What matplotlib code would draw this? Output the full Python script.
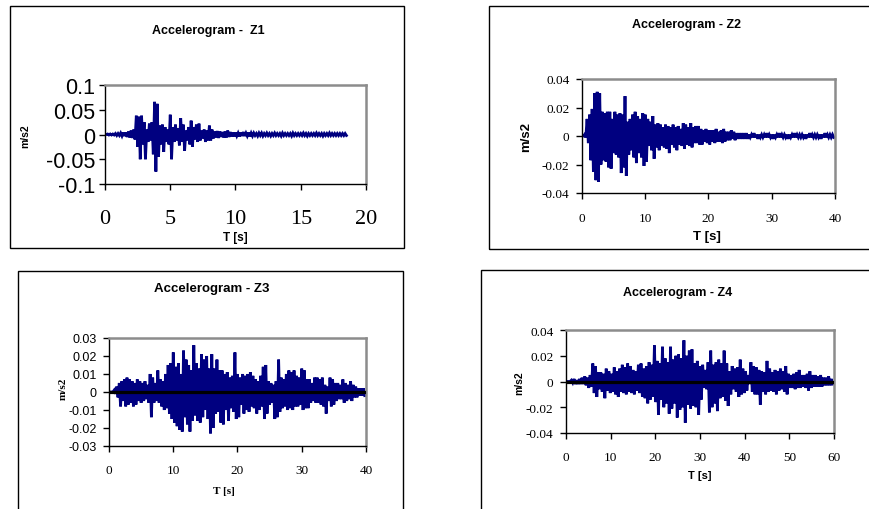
import numpy as np
import matplotlib
matplotlib.use("Agg")
import matplotlib.pyplot as plt
from matplotlib.patches import Rectangle
from matplotlib.ticker import FixedLocator, FixedFormatter

# ---------------- data (accelerations in 1e-3 m/s2) ----------------
# alternating positive / negative half-cycle peaks sampled every dt seconds
z1_dt = 0.2
z1_up = [0, 1, 1, 1, 2, 2, 3, 4, 4, 6,
         8, 10, 38, 36, 38, 25, 10, 22, 25, 66,
         62, 18, 20, 15, 10, 40, 15, 20, 12, 33,
         20, 8, 15, 28, 15, 20, 22, 8, 10, 8,
         18, 10, 6, 7, 6, 5, 6, 8, 5, 4,
         4, 3, 4, 5, 3, 4, 3, 3, 2, 3,
         3, 2, 3, 2, 2, 3, 2, 2, 3, 2,
         2, 2, 3, 2, 2, 2, 3, 2, 2, 2,
         2, 3, 2, 2, 2, 2, 3, 2, 2, 2,
         2, 2, 2]
z1_dn = [0, -1, -1, -1, -2, -2, -3, -3, -5, -6,
         -7, -10, -25, -50, -20, -50, -15, -12, -40, -75,
         -45, -20, -35, -15, -20, -50, -15, -12, -22, -15,
         -33, -12, -20, -25, -10, -15, -12, -8, -15, -12,
         -12, -8, -6, -7, -5, -6, -6, -5, -4, -4,
         -3, -4, -3, -3, -3, -4, -3, -2, -3, -2,
         -3, -2, -2, -3, -2, -2, -2, -3, -2, -2,
         -2, -3, -2, -2, -2, -2, -2, -3, -2, -2,
         -2, -2, -2, -3, -2, -2, -2, -2, -2, -2,
         -2, -2, -2]

z2_dt = 0.4
z2_up = [0, 1, 12, 15, 19, 30, 31, 30, 17, 16,
         17, 17, 12, 17, 15, 16, 15, 28, 10, 12,
         15, 17, 14, 12, 16, 15, 12, 10, 14, 8,
         9, 8, 6, 8, 7, 6, 8, 6, 7, 5,
         9, 8, 6, 9, 6, 7, 7, 5, 4, 5,
         4, 4, 4, 5, 3, 4, 5, 3, 3, 4,
         3, 2, 2, 2, 2, 2, 1, 1, 2, 1,
         1, 1, 1, 2, 1, 1, 1, 1, 2, 1,
         1, 1, 1, 1, 2, 1, 1, 1, 1, 1,
         2, 1, 1, 1, 1, 1, 2, 1, 1, 1]
z2_dn = [0, -1, -5, -17, -25, -31, -32, -20, -17, -18,
         -22, -23, -12, -13, -15, -26, -22, -28, -13, -10,
         -15, -19, -12, -15, -21, -18, -7, -10, -16, -8,
         -10, -7, -8, -9, -12, -6, -8, -10, -6, -7,
         -9, -6, -7, -8, -5, -5, -6, -6, -4, -5,
         -6, -4, -5, -4, -4, -5, -4, -3, -3, -2,
         -3, -2, -2, -2, -2, -2, -1, -1, -1, -2,
         -1, -1, -1, -1, -1, -2, -1, -1, -1, -1,
         -1, -2, -1, -1, -1, -1, -1, -1, -2, -1,
         -1, -1, -1, -1, -2, -1, -1, -1, -1, -1]

z3_dt = 0.4
z3_up = [0, 0, 1, 3, 5, 6, 7, 8, 7, 6,
         5, 7, 6, 5, 6, 4, 10, 8, 5, 12,
         7, 6, 10, 15, 16, 22, 14, 16, 10, 23,
         18, 15, 12, 26, 16, 13, 21, 18, 20, 13,
         21, 13, 18, 12, 12, 10, 11, 8, 9, 22,
         10, 8, 10, 9, 10, 11, 9, 7, 6, 9,
         14, 15, 6, 5, 4, 6, 18, 8, 7, 10,
         12, 11, 12, 9, 8, 13, 12, 7, 7, 5,
         8, 8, 7, 8, 4, 3, 8, 7, 5, 5,
         4, 7, 5, 4, 6, 4, 3, 2, 2, 2]
z3_dn = [0, 0, -1, -3, -8, -5, -8, -7, -6, -8,
         -7, -5, -6, -5, -4, -6, -14, -6, -5, -6,
         -8, -10, -9, -12, -15, -17, -19, -21, -22, -14,
         -18, -22, -16, -13, -16, -17, -14, -10, -15, -23,
         -20, -12, -11, -17, -18, -10, -16, -9, -11, -15,
         -14, -7, -12, -10, -11, -8, -9, -12, -10, -8,
         -15, -12, -7, -6, -15, -14, -11, -9, -8, -10,
         -9, -10, -8, -8, -7, -10, -9, -9, -6, -5,
         -6, -6, -7, -8, -12, -5, -8, -7, -5, -4,
         -4, -6, -5, -4, -5, -3, -3, -2, -2, -2]

z4_dt = 0.6
z4_up = [0, 0, 1, 2, 1, 2, 3, 4, 3, 5,
         14, 12, 7, 7, 6, 10, 8, 6, 11, 8,
         10, 13, 11, 14, 12, 9, 8, 13, 14, 10,
         12, 15, 13, 28, 16, 14, 27, 18, 15, 27,
         17, 20, 21, 18, 32, 20, 24, 25, 14, 16,
         12, 13, 9, 15, 24, 13, 15, 17, 14, 24,
         14, 8, 12, 10, 11, 17, 10, 8, 5, 15,
         12, 11, 9, 8, 7, 16, 10, 7, 9, 8,
         10, 8, 12, 6, 5, 6, 7, 9, 5, 5,
         6, 8, 5, 5, 4, 5, 3, 3, 4, 2]
z4_dn = [0, 0, -1, -2, -2, -2, -2, -3, -5, -4,
         -9, -12, -6, -8, -13, -7, -9, -8, -10, -12,
         -8, -9, -10, -8, -9, -10, -7, -9, -12, -13,
         -17, -14, -12, -16, -26, -14, -20, -17, -25, -21,
         -17, -28, -22, -20, -32, -18, -21, -19, -20, -26,
         -14, -5, -6, -24, -20, -17, -23, -13, -12, -15,
         -19, -10, -6, -8, -12, -10, -9, -7, -2, -8,
         -10, -10, -18, -8, -10, -8, -7, -8, -10, -7,
         -6, -8, -10, -5, -5, -6, -5, -5, -4, -5,
         -7, -5, -4, -4, -4, -4, -3, -3, -3, -2]

# tick labels
z1_yticks = [-0.1, -0.05, 0, 0.05, 0.1]
z1_ylabels = ["-0.1", "-0.05", "0", "0.05", "0.1"]
z1_xticks = [0, 5, 10, 15, 20]
z2_yticks = [-0.04, -0.02, 0, 0.02, 0.04]
z2_ylabels = ["-0.04", "-0.02", "0", "0.02", "0.04"]
z2_xticks = [0, 10, 20, 30, 40]
z3_yticks = [-0.03, -0.02, -0.01, 0, 0.01, 0.02, 0.03]
z3_ylabels = ["-0.03", "-0.02", "-0.01", "0", "0.01", "0.02", "0.03"]
z3_xticks = [0, 10, 20, 30, 40]
z4_yticks = [-0.04, -0.02, 0, 0.02, 0.04]
z4_ylabels = ["-0.04", "-0.02", "0", "0.02", "0.04"]
z4_xticks = [0, 10, 20, 30, 40, 50, 60]

titles = ["Accelerogram -  Z1", "Accelerogram - Z2", "Accelerogram - Z3", "Accelerogram - Z4"]

# ---------------- drawing ----------------
W, H = 870, 510
fig = plt.figure(figsize=(W / 100, H / 100), dpi=100)
fig.patch.set_facecolor("white")

SANS = "Liberation Sans"
SERIF = "Liberation Serif"
NAVY = "#000080"


def fx(x):
    return x / W


def fy(y):
    return 1 - y / H


def box(x0, y0, x1, y1):
    fig.patches.append(Rectangle((fx(x0), fy(y1)), fx(x1) - fx(x0), fy(y0) - fy(y1),
                                 transform=fig.transFigure, fill=False,
                                 edgecolor="black", linewidth=1.0, clip_on=False))


def zigzag(up, dn, dt):
    up = np.asarray(up, float) * 1e-3
    dn = np.asarray(dn, float) * 1e-3
    n = len(up)
    t = np.empty(2 * n)
    y = np.empty(2 * n)
    t[0::2] = np.arange(n) * dt
    t[1::2] = np.arange(n) * dt + dt / 2
    y[0::2] = up
    y[1::2] = dn
    return t, y


def panel(rect, up, dn, dt, xlim, xticks, yticks, ylabels,
          yfont, yfs, xfs, xpad, ypad, zero_line):
    x0, y0, x1, y1 = rect
    ax = fig.add_axes([fx(x0), fy(y1), fx(x1) - fx(x0), fy(y0) - fy(y1)])
    t, y = zigzag(up, dn, dt)
    ax.plot(t, y, color=NAVY, lw=2.0, solid_joinstyle="miter", zorder=2)
    if zero_line:
        ax.axhline(0, color="black", lw=2.3, zorder=3)
    ax.set_xlim(*xlim)
    ax.set_ylim(yticks[0], yticks[-1])
    ax.xaxis.set_major_locator(FixedLocator(xticks))
    ax.xaxis.set_major_formatter(FixedFormatter([str(v) for v in xticks]))
    ax.yaxis.set_major_locator(FixedLocator(yticks))
    ax.yaxis.set_major_formatter(FixedFormatter(ylabels))
    for s in ["top", "right"]:
        ax.spines[s].set_color("#8c8c8c")
        ax.spines[s].set_linewidth(1.8)
    for s in ["left", "bottom"]:
        ax.spines[s].set_color("black")
        ax.spines[s].set_linewidth(1.0)
    ax.tick_params(direction="out", length=4, width=1, color="black")
    ax.tick_params(axis="x", pad=xpad)
    ax.tick_params(axis="y", pad=ypad)
    for lab in ax.get_xticklabels():
        lab.set_fontfamily(SERIF)
        lab.set_fontsize(xfs)
    for lab in ax.get_yticklabels():
        lab.set_fontfamily(yfont)
        lab.set_fontsize(yfs)
    return ax


# frames
box(10, 7, 404, 249)
box(489, 7, 880, 250)
box(18, 272, 403, 520)
box(481, 271, 880, 520)

panel((105, 86, 366, 185), z1_up, z1_dn, z1_dt, (0, 20), z1_xticks, z1_yticks, z1_ylabels,
      SANS, 15.5, 16, 14, 3, False)
panel((582, 80, 835, 194), z2_up, z2_dn, z2_dt, (0, 40), z2_xticks, z2_yticks, z2_ylabels,
      SERIF, 9.5, 9.5, 10, 5, False)
panel((109, 339, 366, 447), z3_up, z3_dn, z3_dt, (0, 40), z3_xticks, z3_yticks, z3_ylabels,
      SANS, 9, 9.5, 9, 5, True)
panel((566, 331, 834, 434), z4_up, z4_dn, z4_dt, (0, 60), z4_xticks, z4_yticks, z4_ylabels,
      SERIF, 9.5, 9.5, 9, 5, True)

# titles
fig.text(fx(208), fy(31), titles[0], family=SANS, weight="bold", fontsize=9, ha="center", va="center")
fig.text(fx(687), fy(25), titles[1], family=SANS, weight="bold", fontsize=9, ha="center", va="center")
fig.text(fx(212), fy(289), titles[2], family=SANS, weight="bold", fontsize=9.5, ha="center", va="center")
fig.text(fx(678), fy(293), titles[3], family=SANS, weight="bold", fontsize=9, ha="center", va="center")

# axis labels
fig.text(fx(235), fy(238), "T [s]", family=SANS, weight="bold", fontsize=8.5, ha="center", va="center")
fig.text(fx(707), fy(237), "T [s]", family=SANS, weight="bold", fontsize=9.5, ha="center", va="center")
fig.text(fx(224), fy(492), "T [s]", family=SERIF, weight="bold", fontsize=8, ha="center", va="center")
fig.text(fx(700), fy(476), "T [s]", family=SANS, weight="bold", fontsize=8, ha="center", va="center")

fig.text(fx(25), fy(136), "m/s2", family=SANS, weight="bold", fontsize=7.5, rotation=90, ha="center", va="center")
fig.text(fx(526), fy(137), "m/s2", family=SANS, weight="bold", fontsize=9.5, rotation=90, ha="center", va="center")
fig.text(fx(63), fy(389), "m/s2", family=SERIF, weight="bold", fontsize=8, rotation=90, ha="center", va="center")
fig.text(fx(519), fy(383), "m/s2", family=SANS, weight="bold", fontsize=7.5, rotation=90, ha="center", va="center")

fig.savefig("out.png", dpi=100, facecolor="white")
